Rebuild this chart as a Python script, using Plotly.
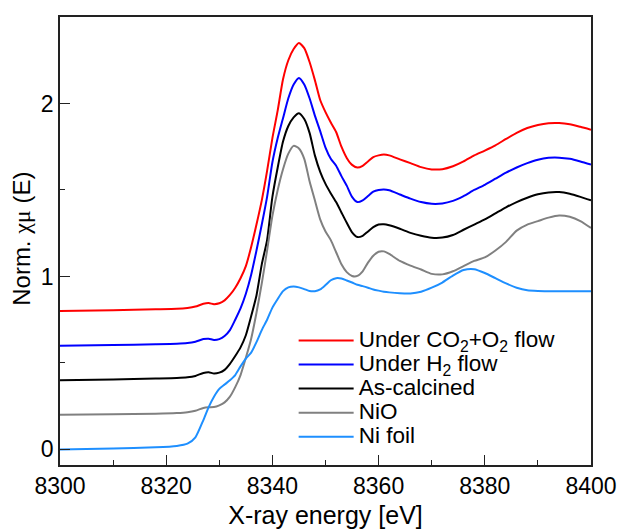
import plotly.graph_objects as go

energy = [8300, 8310, 8318, 8322, 8324, 8325.5, 8327, 8328, 8329, 8330, 8331, 8332, 8333, 8334,
          8335, 8336, 8337, 8338, 8339, 8340, 8341, 8342, 8343, 8344, 8345, 8346, 8347, 8348,
          8349, 8350, 8351, 8352, 8353, 8354, 8355, 8356, 8357, 8358, 8359, 8360, 8361, 8362,
          8364, 8366, 8368, 8370, 8372, 8374, 8376, 8378, 8380, 8382, 8384, 8386, 8388, 8390,
          8392, 8394, 8396, 8398, 8400]

co2_o2 = [0.800, 0.805, 0.810, 0.813, 0.818, 0.826, 0.842, 0.846, 0.840, 0.845, 0.862, 0.893, 0.935, 0.990,
          1.060, 1.170, 1.300, 1.440, 1.610, 1.800, 1.960, 2.140, 2.250, 2.315, 2.350, 2.320, 2.240, 2.135,
          2.020, 1.950, 1.890, 1.835, 1.750, 1.685, 1.645, 1.630, 1.640, 1.665, 1.690, 1.700, 1.705, 1.700,
          1.677, 1.655, 1.632, 1.619, 1.620, 1.637, 1.665, 1.700, 1.728, 1.758, 1.795, 1.830, 1.858, 1.876,
          1.886, 1.887, 1.880, 1.865, 1.848]

h2 = [0.600, 0.604, 0.608, 0.611, 0.615, 0.623, 0.638, 0.640, 0.633, 0.638, 0.656, 0.690, 0.750, 0.815,
      0.900, 1.010, 1.150, 1.300, 1.460, 1.660, 1.800, 1.915, 2.030, 2.110, 2.148, 2.110, 2.030, 1.930,
      1.840, 1.745, 1.680, 1.640, 1.580, 1.525, 1.460, 1.430, 1.440, 1.465, 1.490, 1.500, 1.503, 1.498,
      1.474, 1.450, 1.430, 1.420, 1.422, 1.437, 1.465, 1.500, 1.530, 1.565, 1.600, 1.630, 1.655, 1.675,
      1.686, 1.687, 1.680, 1.665, 1.647]

calcined = [0.400, 0.405, 0.410, 0.413, 0.417, 0.425, 0.442, 0.446, 0.439, 0.444, 0.460, 0.495, 0.540, 0.590,
            0.660, 0.770, 0.890, 1.070, 1.210, 1.460, 1.630, 1.780, 1.870, 1.920, 1.944, 1.910, 1.830, 1.700,
            1.605, 1.535, 1.480, 1.430, 1.370, 1.310, 1.255, 1.228, 1.235, 1.260, 1.285, 1.300, 1.302, 1.296,
            1.276, 1.252, 1.235, 1.224, 1.225, 1.240, 1.270, 1.300, 1.330, 1.365, 1.400, 1.430, 1.455, 1.475,
            1.486, 1.488, 1.478, 1.460, 1.440]

nio = [0.200, 0.203, 0.206, 0.210, 0.215, 0.224, 0.240, 0.244, 0.245, 0.255, 0.272, 0.305, 0.360, 0.430,
       0.530, 0.640, 0.790, 0.960, 1.150, 1.350, 1.500, 1.620, 1.710, 1.755, 1.740, 1.680, 1.550, 1.440,
       1.330, 1.260, 1.210, 1.140, 1.070, 1.025, 1.003, 1.003, 1.030, 1.080, 1.120, 1.143, 1.145, 1.130,
       1.090, 1.063, 1.040, 1.015, 1.012, 1.030, 1.060, 1.090, 1.110, 1.150, 1.200, 1.265, 1.300, 1.320,
       1.340, 1.353, 1.345, 1.320, 1.280]

ni_foil = [0.000, 0.005, 0.012, 0.020, 0.033, 0.070, 0.170, 0.245, 0.305, 0.350, 0.375, 0.400, 0.430, 0.480,
           0.525, 0.560, 0.620, 0.690, 0.750, 0.820, 0.870, 0.915, 0.937, 0.942, 0.937, 0.927, 0.916, 0.915,
           0.925, 0.950, 0.978, 0.990, 0.988, 0.977, 0.965, 0.952, 0.944, 0.935, 0.925, 0.918, 0.912, 0.908,
           0.903, 0.902, 0.912, 0.935, 0.965, 1.005, 1.037, 1.042, 1.020, 0.990, 0.960, 0.935, 0.920, 0.916,
           0.915, 0.915, 0.914, 0.914, 0.915]

series_names = ["Under CO<sub>2</sub>+O<sub>2</sub> flow", "Under H<sub>2</sub> flow",
                "As-calcined", "NiO", "Ni foil"]
series_values = [co2_o2, h2, calcined, nio, ni_foil]
series_colors = ["#ff0000", "#0000ff", "#000000", "#808080", "#1e8fff"]

x_ticks = [8300, 8320, 8340, 8360, 8380, 8400]
y_ticks = [0, 1, 2]

x_title = "X-ray energy [eV]"
y_title = 'Norm. <span style="font-family:Liberation Serif, Times New Roman, serif">χμ</span> (E)'

FONT = "Liberation Sans, Arial, sans-serif"
LEGEND_TEXT_PX = 22.5

fig = go.Figure()
for name, vals, col in zip(series_names, series_values, series_colors):
    fig.add_trace(go.Scatter(
        x=energy, y=vals, mode="lines",
        name=f'<span style="font-size:{LEGEND_TEXT_PX}px">{name}</span>',
        line=dict(color=col, width=2, shape="spline", smoothing=0.6)))

axis_common = dict(showline=True, mirror=True, linecolor="#222222", linewidth=1.5,
                   showgrid=False, zeroline=False, ticks="inside", ticklen=10,
                   tickwidth=1.2, tickcolor="#222222", automargin=False,
                   tickfont=dict(family=FONT, size=23, color="black"))

fig.update_layout(
    width=619, height=530,
    margin=dict(l=60, r=28, t=17, b=65),
    paper_bgcolor="white", plot_bgcolor="white",
    font=dict(family=FONT, color="black"),
    xaxis=dict(range=[8300, 8400], tickvals=x_ticks,
               title=dict(text=x_title, font=dict(family=FONT, size=25), standoff=8),
               minor=dict(dtick=10, ticks="inside", ticklen=5, tickwidth=1.2, tickcolor="#222222"),
               **axis_common),
    yaxis=dict(range=[-0.09, 2.5], tickvals=y_ticks,
               minor=dict(tickvals=[0.5, 1.5], ticks="inside", ticklen=5, tickwidth=1.2, tickcolor="#222222"),
               **axis_common),
    annotations=[dict(text=y_title, textangle=-90, xref="paper", yref="paper",
                      x=-0.0715, y=0.505, xanchor="center", yanchor="middle", showarrow=False,
                      font=dict(family=FONT, size=24, color="black"))],
    legend=dict(x=0.44, y=0.316, xanchor="left", yanchor="top",
                bgcolor="rgba(0,0,0,0)", borderwidth=0,
                font=dict(family=FONT, size=16.2, color="black"),
                tracegroupgap=0, itemwidth=55),
    showlegend=True,
)

fig.write_html("out.html", post_script="document.body.style.margin='0';",
               config={"displayModeBar": False})
